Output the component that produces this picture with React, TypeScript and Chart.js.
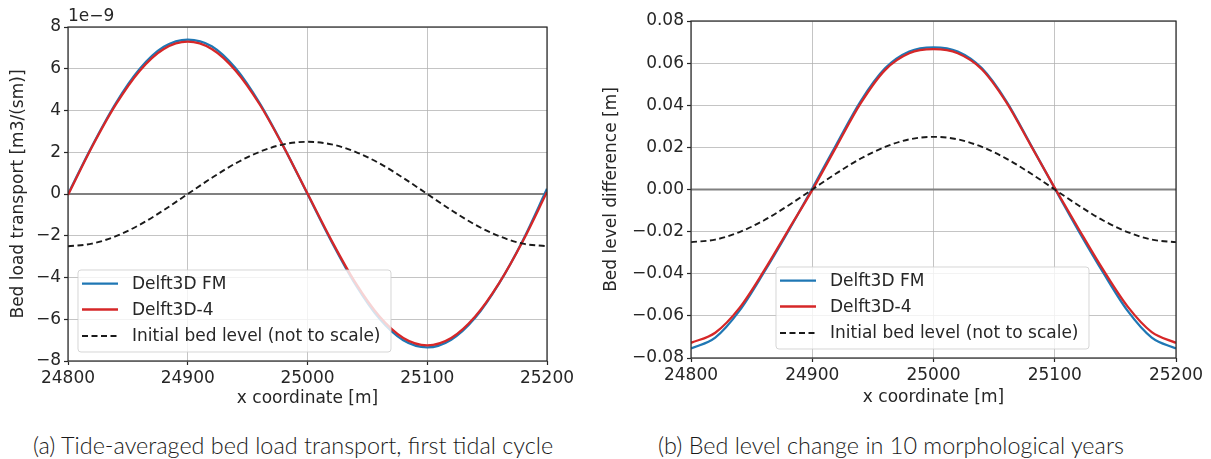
import React, { useEffect, useRef } from "react";
import { Chart, registerables } from "chart.js";

Chart.register(...registerables);

// x coordinate [m]
const xCoords = [24800, 24820, 24840, 24860, 24880, 24900, 24920, 24940, 24960, 24980, 25000, 25020, 25040, 25060, 25080, 25100, 25120, 25140, 25160, 25180, 25200];

// (a) Tide-averaged bed load transport, values in units of 1e-9 m3/(sm)
const transportFM = [0.0, 2.29, 4.36, 6.0, 7.05, 7.4, 7.08, 6.02, 4.35, 2.27, 0.0, -2.27, -4.33, -5.97, -7.01, -7.35, -6.98, -5.93, -4.28, -2.2, 0.25];
const transportD4 = [-0.05, 2.25, 4.29, 5.91, 6.95, 7.3, 6.95, 5.91, 4.3, 2.26, 0.02, -2.22, -4.25, -5.86, -6.9, -7.25, -6.9, -5.87, -4.27, -2.24, 0.1];
const transportBed = [-2.5, -2.38, -2.02, -1.47, -0.77, 0.0, 0.77, 1.47, 2.02, 2.38, 2.5, 2.38, 2.02, 1.47, 0.77, 0.0, -0.77, -1.47, -2.02, -2.38, -2.5];

// (b) Bed level difference [m]
const levelFM = [-0.0755, -0.0703, -0.0575, -0.0395, -0.02, 0.0005, 0.0215, 0.042, 0.0575, 0.0655, 0.0675, 0.0655, 0.0575, 0.042, 0.0215, 0.0005, -0.02, -0.0395, -0.0575, -0.0703, -0.0755];
const levelD4 = [-0.0728, -0.068, -0.0562, -0.0388, -0.0195, -0.0003, 0.0205, 0.041, 0.0567, 0.0647, 0.0666, 0.0647, 0.057, 0.0415, 0.0212, 0.0008, -0.019, -0.0382, -0.0555, -0.0677, -0.0728];
const levelBed = [-0.025, -0.0238, -0.0202, -0.0147, -0.0077, 0.0, 0.0077, 0.0147, 0.0202, 0.0238, 0.025, 0.0238, 0.0202, 0.0147, 0.0077, 0.0, -0.0077, -0.0147, -0.0202, -0.0238, -0.025];

// ticks
const xTicks = [24800, 24900, 25000, 25100, 25200];
const transportYTicks = [-8, -6, -4, -2, 0, 2, 4, 6, 8];
const levelYTicks = [-0.08, -0.06, -0.04, -0.02, 0.0, 0.02, 0.04, 0.06, 0.08];

const legendLabels = ["Delft3D FM", "Delft3D-4", "Initial bed level (not to scale)"];
const captions = [
  "(a) Tide-averaged bed load transport, first tidal cycle",
  "(b) Bed level change in 10 morphological years",
];
const axisTitles = {
  x: "x coordinate [m]",
  transportY: "Bed load transport [m3/(sm)]",
  levelY: "Bed level difference [m]",
};
const offsetText = "1e\u22129";

const BLUE = "#1f77b4";
const RED = "#d62728";
const DASH = "#1a1a1a";
const TEXT = "#262626";
const FONT = "DejaVu Sans";
const FS = 17;

type PanelCfg = {
  fm: number[];
  d4: number[];
  bed: number[];
  yTicks: number[];
  decimals: number;
  yTitle: string;
  width: number;
  height: number;
  padding: { left: number; right: number; top: number; bottom: number };
  yWidth: number;
  xHeight: number;
  yTitlePad: number;
  xTitlePad: number;
  legend: { x: number; y: number; w: number; h: number; hx0: number; hx1: number; tx: number; rows: number[] };
  offset?: string;
};

function fmtTick(v: number, d: number) {
  let s = v.toFixed(d);
  if (Number(s) === 0) s = (0).toFixed(d);
  return s.replace("-", "\u2212");
}

function makePlugin(cfg: PanelCfg) {
  return {
    id: "panelDecor",
    beforeDatasetsDraw(chart: any) {
      const { ctx, chartArea } = chart;
      const y0 = chart.scales.y.getPixelForValue(0);
      ctx.save();
      ctx.strokeStyle = "#808080";
      ctx.lineWidth = 2;
      ctx.beginPath();
      ctx.moveTo(chartArea.left, y0);
      ctx.lineTo(chartArea.right, y0);
      ctx.stroke();
      ctx.restore();
    },
    afterDatasetsDraw(chart: any) {
      const { ctx, chartArea } = chart;
      ctx.save();
      // frame
      ctx.strokeStyle = TEXT;
      ctx.lineWidth = 1.2;
      ctx.strokeRect(chartArea.left, chartArea.top, chartArea.right - chartArea.left, chartArea.bottom - chartArea.top);
      // legend
      const L = cfg.legend;
      ctx.beginPath();
      (ctx as any).roundRect(L.x, L.y, L.w, L.h, 3);
      ctx.fillStyle = "rgba(255,255,255,0.8)";
      ctx.fill();
      ctx.strokeStyle = "rgba(204,204,204,0.8)";
      ctx.lineWidth = 1;
      ctx.stroke();
      const styles = [
        { c: BLUE, w: 2.3, d: [] as number[] },
        { c: RED, w: 2.3, d: [] as number[] },
        { c: DASH, w: 1.9, d: [6, 3.5] },
      ];
      ctx.font = `${FS}px "${FONT}"`;
      ctx.textBaseline = "middle";
      ctx.textAlign = "left";
      legendLabels.forEach((lab, i) => {
        const y = L.rows[i];
        ctx.beginPath();
        ctx.setLineDash(styles[i].d);
        ctx.strokeStyle = styles[i].c;
        ctx.lineWidth = styles[i].w;
        ctx.moveTo(L.hx0, y);
        ctx.lineTo(L.hx1, y);
        ctx.stroke();
        ctx.setLineDash([]);
        ctx.fillStyle = TEXT;
        ctx.fillText(lab, L.tx, y + 1);
      });
      if (cfg.offset) {
        ctx.fillStyle = TEXT;
        ctx.textAlign = "left";
        ctx.textBaseline = "middle";
        ctx.fillText(cfg.offset, chartArea.left, chartArea.top - 10);
      }
      ctx.restore();
    },
  };
}

function buildChart(canvas: HTMLCanvasElement, cfg: PanelCfg) {
  const toPts = (arr: number[]) => arr.map((v, i) => ({ x: xCoords[i], y: v }));
  const ymin = cfg.yTicks[0];
  const ymax = cfg.yTicks[cfg.yTicks.length - 1];
  const common = { pointRadius: 0, cubicInterpolationMode: "monotone", fill: false };
  return new Chart(canvas, {
    type: "line",
    data: {
      datasets: [
        { ...common, label: legendLabels[0], data: toPts(cfg.fm), borderColor: BLUE, borderWidth: 2.3, order: 3 },
        { ...common, label: legendLabels[1], data: toPts(cfg.d4), borderColor: RED, borderWidth: 2.3, order: 2 },
        { ...common, label: legendLabels[2], data: toPts(cfg.bed), borderColor: DASH, borderWidth: 1.9, borderDash: [6, 3.5], order: 1 },
      ],
    },
    options: {
      animation: false,
      responsive: false,
      events: [],
      layout: { padding: cfg.padding },
      plugins: { legend: { display: false }, tooltip: { enabled: false }, title: { display: false } },
      scales: {
        x: {
          type: "linear",
          min: xCoords[0],
          max: xCoords[xCoords.length - 1],
          afterBuildTicks: (s: any) => { s.ticks = xTicks.map((v) => ({ value: v })); },
          afterFit: (s: any) => { s.height = cfg.xHeight; },
          ticks: { color: TEXT, font: { family: FONT, size: FS }, padding: 3, maxRotation: 0, callback: (v: any) => String(v) },
          grid: { color: "rgba(176,176,176,0.75)", lineWidth: 1, drawTicks: true, tickLength: 4, tickColor: TEXT, tickWidth: 1.2 },
          border: { display: false },
          title: { display: true, text: axisTitles.x, color: TEXT, font: { family: FONT, size: FS }, padding: { top: 0, bottom: cfg.xTitlePad } },
        },
        y: {
          type: "linear",
          min: ymin,
          max: ymax,
          afterBuildTicks: (s: any) => { s.ticks = cfg.yTicks.map((v) => ({ value: v })); },
          afterFit: (s: any) => { s.width = cfg.yWidth; },
          ticks: { color: TEXT, font: { family: FONT, size: FS }, padding: 3, callback: (v: any) => fmtTick(Number(v), cfg.decimals) },
          grid: { color: "rgba(176,176,176,0.75)", lineWidth: 1, drawTicks: true, tickLength: 4, tickColor: TEXT, tickWidth: 1.2 },
          border: { display: false },
          title: { display: true, text: cfg.yTitle, color: TEXT, font: { family: FONT, size: FS }, padding: { top: cfg.yTitlePad, bottom: 0 } },
        },
      },
    },
    plugins: [makePlugin(cfg)],
  } as any);
}

const leftCfg: PanelCfg = {
  fm: transportFM,
  d4: transportD4,
  bed: transportBed,
  yTicks: transportYTicks,
  decimals: 0,
  yTitle: axisTitles.transportY,
  width: 600,
  height: 420,
  padding: { left: 0, right: 53, top: 27, bottom: 9 },
  yWidth: 68,
  xHeight: 50,
  yTitlePad: 8.5,
  xTitlePad: 2,
  legend: { x: 78, y: 270, w: 313, h: 82, hx0: 82, hx1: 118, tx: 132, rows: [283.7, 309.5, 336] },
  offset: offsetText,
};

const rightCfg: PanelCfg = {
  fm: levelFM,
  d4: levelD4,
  bed: levelBed,
  yTicks: levelYTicks,
  decimals: 2,
  yTitle: axisTitles.levelY,
  width: 611,
  height: 420,
  padding: { left: 0, right: 35, top: 21, bottom: 12 },
  yWidth: 91,
  xHeight: 50,
  yTitlePad: 1.5,
  xTitlePad: 0,
  legend: { x: 176, y: 267, w: 313, h: 82, hx0: 180, hx1: 216, tx: 230, rows: [280.7, 306.5, 333] },
};

function Panel({ cfg, left }: { cfg: PanelCfg; left: number }) {
  const ref = useRef<HTMLCanvasElement>(null);
  useEffect(() => {
    if (!ref.current) return;
    const ch = buildChart(ref.current, cfg);
    return () => ch.destroy();
  }, [cfg]);
  return (
    <canvas
      ref={ref}
      width={cfg.width}
      height={cfg.height}
      style={{ position: "absolute", left, top: 0, width: cfg.width, height: cfg.height }}
    />
  );
}

export default function App() {
  const capStyle: React.CSSProperties = {
    position: "absolute",
    top: 430,
    fontFamily: "Lato, sans-serif",
    fontWeight: 300,
    fontSize: 23.4,
    color: "#1a1a1a",
    whiteSpace: "nowrap",
    transform: "translateX(-50%)",
    lineHeight: "30px",
  };
  return (
    <div style={{ position: "fixed", left: 0, top: 0, width: 1211, height: 459, background: "#fff", overflow: "hidden" }}>
      <Panel cfg={leftCfg} left={0} />
      <Panel cfg={rightCfg} left={600} />
      <div style={{ ...capStyle, left: 293 }}>{captions[0]}</div>
      <div style={{ ...capStyle, left: 891 }}>{captions[1]}</div>
    </div>
  );
}
